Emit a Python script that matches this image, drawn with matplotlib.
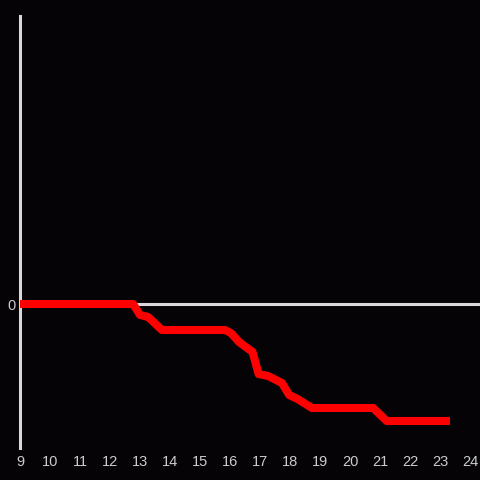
import numpy as np
import matplotlib.pyplot as plt

# hour of day vs. value
hours = [9.0, 12.77, 13.0, 13.27, 13.73, 15.83, 16.03, 16.3, 16.75, 16.95,
         17.27, 17.73, 17.97, 18.25, 18.73, 20.77, 21.22, 23.33]
values = [0, 0, -1.1, -1.3, -2.6, -2.6, -2.9, -3.8, -4.8, -7.0,
          -7.2, -7.9, -9.1, -9.5, -10.4, -10.4, -11.7, -11.7]
xticks = list(range(9, 25))

bg = '#050306'
fg = '#d8d8d8'

fig = plt.figure(figsize=(4.8, 4.8), dpi=100, facecolor=bg)
ax = fig.add_axes([20 / 480, 32 / 480, 460 / 480, 432 / 480], facecolor=bg)

ax.axhline(0, color=fg, lw=2.2, zorder=1)
ax.plot(hours, values, color='#ff0000', lw=5.8, solid_joinstyle='round',
        solid_capstyle='butt', zorder=3, clip_on=False)

ax.set_xlim(9, 24.33)
ax.set_ylim(-14.4, 28.8)
ax.set_xticks(xticks)
ax.set_xticklabels([str(t) for t in xticks])
ax.set_yticks([0])
ax.set_yticklabels(['0'])
ax.tick_params(length=0, colors='#cccccc', labelsize=10.5,
               labelfontfamily='Liberation Sans')
ax.tick_params(axis='x', pad=5)
ax.tick_params(axis='y', pad=3)

for s in ['top', 'right', 'bottom']:
    ax.spines[s].set_visible(False)
ax.spines['left'].set_color(fg)
ax.spines['left'].set_linewidth(2.2)

fig.savefig('out.png', dpi=100, facecolor=bg)
